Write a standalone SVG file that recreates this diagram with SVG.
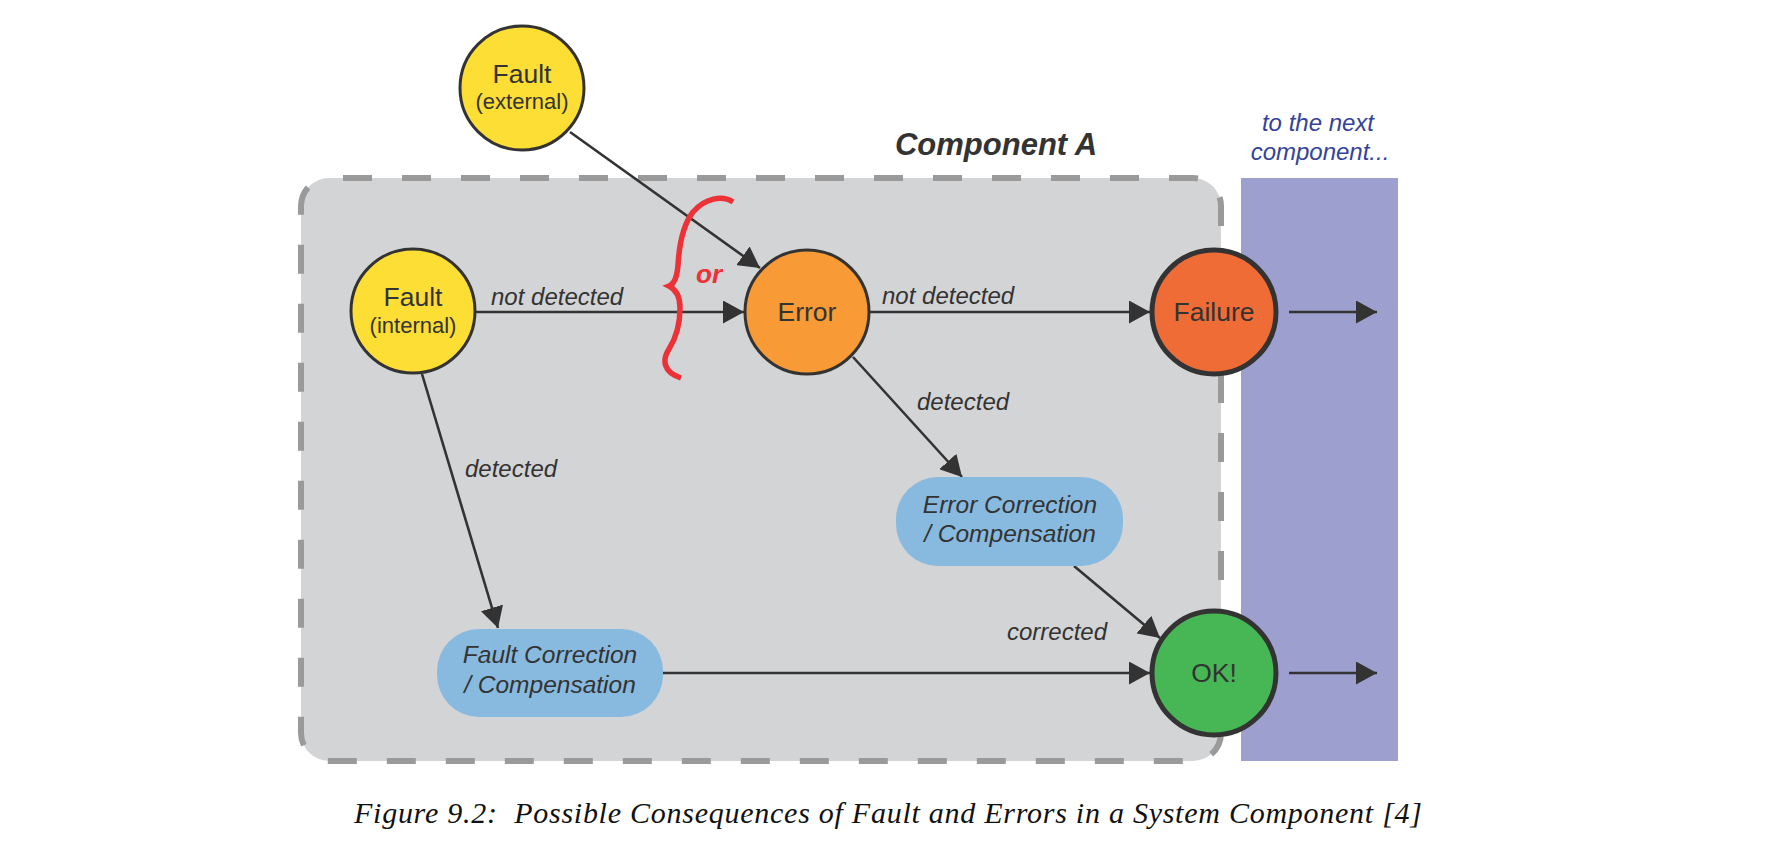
<svg xmlns="http://www.w3.org/2000/svg" width="1776" height="849" viewBox="0 0 1776 849">
<defs>
<marker id="arr" markerUnits="userSpaceOnUse" markerWidth="21" markerHeight="23" refX="21" refY="11.5" orient="auto">
<path d="M0,0 L21,11.5 L0,23 z" fill="#333"/>
</marker>
<style>
.sans{font-family:"Liberation Sans",Arial,sans-serif;fill:#333}
.node{stroke:#333;stroke-width:3}
.thick{stroke:#333;stroke-width:5}
.lbl{font-family:"Liberation Sans",Arial,sans-serif;font-style:italic;font-size:24px;fill:#333}
.conn line{stroke:#333;stroke-width:2.6;marker-end:url(#arr)}
.big{font-size:26.5px;text-anchor:middle}
.sub{font-size:22px;text-anchor:middle}
.box{fill:#88badf}
.boxt{font-family:"Liberation Sans",Arial,sans-serif;font-style:italic;font-size:24.5px;fill:#333;text-anchor:middle}
</style>
</defs>
<rect width="1776" height="849" fill="#fff"/>
<g id="componentA">
<rect x="301" y="178" width="920" height="583" rx="28" ry="28" fill="#d3d4d6" stroke="#9a9a9a" stroke-width="6" stroke-dasharray="29 30" stroke-dashoffset="45"/>
<text x="996" y="155" font-family="Liberation Sans,Arial,sans-serif" font-style="italic" font-weight="bold" font-size="31" fill="#333" text-anchor="middle">Component A</text>
</g>
<g id="nextComponent">
<rect x="1241" y="178" width="157" height="583" fill="#9d9fcf"/>
<text font-family="Liberation Sans,Arial,sans-serif" font-style="italic" font-size="24" fill="#34439a" text-anchor="middle"><tspan x="1318" y="131">to the next</tspan><tspan x="1320" y="160">component...</tspan></text>
</g>
<g id="connectors" class="conn">
<line x1="570" y1="132" x2="760" y2="268"/>
<line x1="476" y1="312" x2="744" y2="312"/>
<line x1="870" y1="312" x2="1150" y2="312"/>
<line x1="1289" y1="312" x2="1377" y2="312"/>
<line x1="853" y1="357" x2="962" y2="477"/>
<line x1="1074" y1="566" x2="1160" y2="638"/>
<line x1="422" y1="374" x2="498" y2="628"/>
<line x1="663" y1="673" x2="1150" y2="673"/>
<line x1="1289" y1="673" x2="1377" y2="673"/>
</g>
<g id="edgeLabels">
<text class="lbl" x="491" y="305">not detected</text>
<text class="lbl" x="882" y="304">not detected</text>
<text class="lbl" x="917" y="410">detected</text>
<text class="lbl" x="465" y="477">detected</text>
<text class="lbl" x="1007" y="640">corrected</text>
</g>
<g id="orBrace">
<path d="M733,202 C722,195 705,198 693,212 C682,226 679,248 678,265 C677,278 674,284 669,286 C675,289 680,296 680,308 C680,325 676,338 669,349 C662,360 663,372 681,378" fill="none" stroke="#ec3237" stroke-width="5.5"/>
<text x="696" y="283" font-family="Liberation Sans,Arial,sans-serif" font-style="italic" font-weight="bold" font-size="26" fill="#ec3237">or</text>
</g>
<g id="faultExternal">
<circle class="node" cx="522" cy="88" r="62" fill="#fdde35"/>
<text class="sans big" x="522" y="83">Fault</text>
<text class="sans sub" x="522" y="109">(external)</text>
</g>
<g id="faultInternal">
<circle class="node" cx="413" cy="311" r="62" fill="#fdde35"/>
<text class="sans big" x="413" y="306">Fault</text>
<text class="sans sub" x="413" y="333">(internal)</text>
</g>
<g id="error">
<circle class="node" cx="807" cy="312" r="62" fill="#f89a35"/>
<text class="sans big" x="807" y="321">Error</text>
</g>
<g id="failure">
<circle class="thick" cx="1214" cy="312" r="62" fill="#f06c37"/>
<text class="sans big" x="1214" y="321">Failure</text>
</g>
<g id="ok">
<circle class="thick" cx="1214" cy="673" r="62" fill="#47b755"/>
<text class="sans big" x="1214" y="682">OK!</text>
</g>
<g id="errorCorrection">
<rect class="box" x="896" y="477" width="227" height="89" rx="42" ry="42"/>
<text class="boxt"><tspan x="1010" y="513">Error Correction</tspan><tspan x="1010" y="542">/ Compensation</tspan></text>
</g>
<g id="faultCorrection">
<rect class="box" x="437" y="629" width="226" height="88" rx="42" ry="42"/>
<text class="boxt"><tspan x="550" y="663">Fault Correction</tspan><tspan x="550" y="693">/ Compensation</tspan></text>
</g>
<g id="caption">
<text x="888" y="823" font-family="Liberation Serif,Times New Roman,serif" font-style="italic" font-size="30" fill="#111" text-anchor="middle" textLength="1068" lengthAdjust="spacing" xml:space="preserve">Figure 9.2:  Possible Consequences of Fault and Errors in a System Component [4]</text>
</g>
</svg>
